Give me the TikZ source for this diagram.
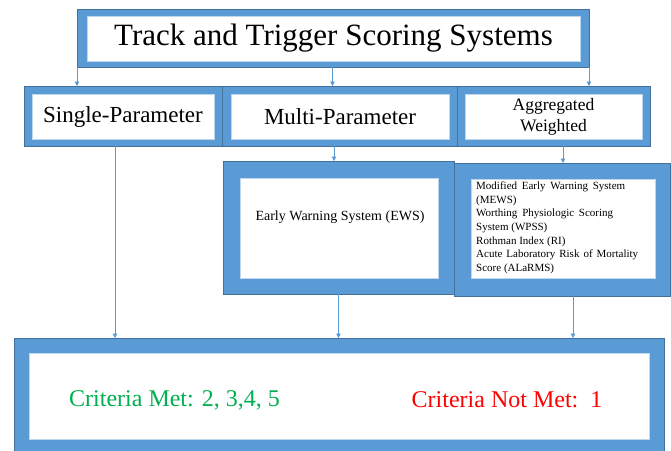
\documentclass[tikz,border=0pt]{standalone}
\usepackage{fontspec}
\setmainfont{Liberation Serif}
\usetikzlibrary{arrows.meta}

\definecolor{boxblue}{RGB}{91,155,213}
\definecolor{edgeblue}{RGB}{65,113,156}
\definecolor{metgreen}{RGB}{0,176,80}
\definecolor{notred}{RGB}{255,0,0}

\begin{document}
\begin{tikzpicture}[x=1pt, y=-1pt,
	outerbox/.style = {draw = edgeblue, fill = boxblue, line width = 0.6pt,
					   shape = rectangle, inner sep = 0pt, outer sep = 0pt},
	innerbox/.style = {draw = boxblue!40, fill = white, line width = 0.4pt,
					   shape = rectangle, inner sep = 0pt, outer sep = 0pt},
	link/.style = {draw = boxblue, line width = 0.7pt,
				   -{Triangle[width = 4.5pt, length = 4.5pt]}}]

	\useasboundingbox (0,0) rectangle (671,450);

	% top
	\draw (333,38) node[outerbox,
					 minimum width = 512pt, minimum height = 58pt] (title) {};
	\draw (333.5,38.5) node[innerbox,
					 minimum width = 493pt, minimum height = 45pt,
					 font = \fontsize{31}{34}\selectfont] (titlein)
					 {Track and Trigger Scoring Systems};

	% second row
	\draw (123,116) node[outerbox,
					 minimum width = 198pt, minimum height = 60pt] (single) {};
	\draw (123,116.5) node[innerbox,
					 minimum width = 182pt, minimum height = 45pt,
					 font = \fontsize{23}{26}\selectfont] (singlein) {Single-Parameter};

	\draw (339.5,116) node[outerbox,
					 minimum width = 235pt, minimum height = 60pt] (multi) {};
	\draw (340,116.5) node[innerbox,
					 minimum width = 218pt, minimum height = 45pt,
					 font = \fontsize{23}{26}\selectfont] (multiin) {Multi-Parameter\hspace{14pt}};

	\draw (553.5,116) node[outerbox,
					 minimum width = 193pt, minimum height = 60pt] (agg) {};
	\draw (553.5,116.5) node[innerbox,
					 minimum width = 177pt, minimum height = 45pt, align = center,
					 font = \fontsize{17.5}{21}\selectfont] (aggin) {Aggregated\\Weighted};

	% third row
	\draw (338.5,227.5) node[outerbox,
					 minimum width = 231pt, minimum height = 133pt] (ews) {};
	\draw (339,228) node[innerbox,
					 minimum width = 198pt, minimum height = 100pt] (ewsin) {};
	\draw (340,217) node[font = \fontsize{14}{16}\selectfont] (ewstext)
					 {\makebox[169pt][s]{Early Warning System (EWS)}};

	\draw (562,229.5) node[outerbox,
					 minimum width = 216pt, minimum height = 133pt] (list) {};
	\draw (563,228.5) node[innerbox,
					 minimum width = 184pt, minimum height = 99pt] (listin) {};
	\draw (476,181.5) node[anchor = north west, inner sep = 0pt, align = left,
					 font = \fontsize{11}{13.7}\selectfont] (listtext)
					 {\makebox[149pt][s]{Modified Early Warning System}\\
					  (MEWS)\\
					  \makebox[137pt][s]{Worthing Physiologic Scoring}\\
					  System (WPSS)\\
					  Rothman Index (RI)\\
					  \makebox[162pt][s]{Acute Laboratory Risk of Mortality}\\
					  Score (ALaRMS)};

	% bottom
	\draw (339,395) node[outerbox,
					 minimum width = 650pt, minimum height = 114pt] (bottom) {};
	\draw (339,396) node[innerbox,
					 minimum width = 620pt, minimum height = 86pt] (bottomin) {};
	\draw (174.5,400) node[text = metgreen,
					 font = \fontsize{24}{28}\selectfont] (met) {Criteria Met: 2, 3,4, 5};
	\draw (507,400) node[text = notred,
					 font = \fontsize{24}{28}\selectfont] (notmet) {Criteria Not Met:~~1};

	% arrows
	\draw[link] (title.south west) -- (title.south west |- single.north);
	\draw[link] ([xshift = -0.5pt]title.south) -- ([xshift = -0.5pt]title.south |- multi.north);
	\draw[link] (title.south east) -- (title.south east |- agg.north);

	\draw[link] ([xshift = -8pt]single.south) -- ([xshift = -8pt]single.south |- bottom.north);
	\draw[link] ([xshift = -5.5pt]multi.south) -- ([xshift = -5.5pt]multi.south |- ews.north);
	\draw[link] ([xshift = 9.5pt]agg.south) -- ([xshift = 9.5pt]agg.south |- list.north);

	\draw[link] (ews.south) -- (ews.south |- bottom.north);
	\draw[link] ([xshift = 11pt]list.south) -- ([xshift = 11pt]list.south |- bottom.north);
\end{tikzpicture}
\end{document}
